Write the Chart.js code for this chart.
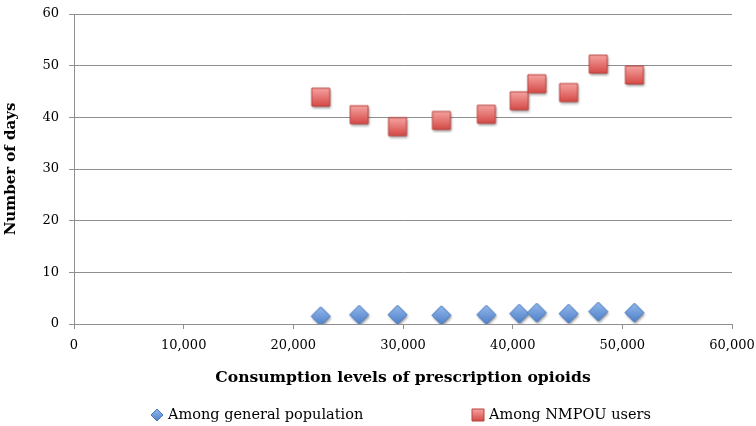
<!DOCTYPE html>
<html>
<head>
<meta charset="utf-8">
<script src="https://cdn.jsdelivr.net/npm/chart.js@4"></script>
<style>
html,body{margin:0;padding:0;background:#fff;}
#wrap{width:756px;height:426px;position:relative;}
</style>
</head>
<body>
<div id="wrap"><canvas id="c"></canvas></div>
<script>
const consumption = [22500, 26000, 29500, 33500, 37600, 40600, 42200, 45100, 47800, 51100];
const generalPop = [1.5, 1.8, 1.8, 1.7, 1.8, 2.0, 2.2, 2.0, 2.4, 2.2];
const nmpouUsers = [43.9, 40.5, 38.2, 39.4, 40.6, 43.2, 46.5, 44.8, 50.3, 48.2];
const xTicks = [0, 10000, 20000, 30000, 40000, 50000, 60000];
const yTicks = [0, 10, 20, 30, 40, 50, 60];
const seriesNames = ['Among general population', 'Among NMPOU users'];

const FONT = "'DejaVu Serif', 'Liberation Serif', serif";

function pts(ys){ return consumption.map((x,i)=>({x:x, y:ys[i]})); }

function makeMarker(shape, size, top, bottom, stroke, withShadow){
  const pad = withShadow ? 4 : 1;
  const S = size + pad*2;
  const cv = document.createElement('canvas');
  cv.width = S; cv.height = S;
  const c = cv.getContext('2d');
  const h = size/2, cx = S/2, cy = S/2;
  function path(){
    c.beginPath();
    if (shape === 'diamond'){
      c.moveTo(cx, cy-h); c.lineTo(cx+h, cy); c.lineTo(cx, cy+h); c.lineTo(cx-h, cy); c.closePath();
    } else {
      c.rect(cx-h, cy-h, size, size);
    }
  }
  if (withShadow){
    c.save();
    c.shadowColor = 'rgba(0,0,0,0.4)'; c.shadowBlur = 2.5; c.shadowOffsetX = 1; c.shadowOffsetY = 2;
    path(); c.fillStyle = bottom; c.fill();
    c.restore();
  }
  const g = c.createLinearGradient(0, cy-h, 0, cy+h);
  g.addColorStop(0, top); g.addColorStop(1, bottom);
  path(); c.fillStyle = g; c.fill();
  c.lineWidth = 1; c.strokeStyle = stroke; c.stroke();
  return cv;
}

const blueMarker = makeMarker('diamond', 19, '#93B8EC', '#4F80C8', '#4A78BD', true);
const redMarker = makeMarker('square', 18, '#F5A3A1', '#D54A46', '#B8423F', true);
const blueLegend = makeMarker('diamond', 12, '#93B8EC', '#4F80C8', '#4A78BD', false);
const redLegend = makeMarker('square', 12, '#F5A3A1', '#D54A46', '#B8423F', false);

const customLegend = {
  id: 'customLegend',
  afterDraw(chart){
    const c = chart.ctx;
    const ca = chart.chartArea;
    c.save();
    c.font = "14.5px " + FONT;
    c.fillStyle = '#000';
    c.textBaseline = 'middle';
    const markers = [blueLegend, redLegend];
    const mid = (ca.left + ca.right)/2;
    const starts = [mid - 252, mid + 69];
    const mw = 12, mg = 5;
    const y = 415;
    chart.data.datasets.forEach((d,i)=>{
      const m = markers[i];
      const x = starts[i];
      c.drawImage(m, x + mw/2 - m.width/2, y - m.height/2);
      c.textAlign = 'left';
      c.fillText(d.label, x + mw + mg, y);
    });
    c.restore();
  }
};

new Chart(document.getElementById('c'), {
  type: 'scatter',
  data: {
    datasets: [
      { label: seriesNames[0], data: pts(generalPop),
        pointStyle: blueMarker, pointRadius: 10, pointHoverRadius: 10,
        backgroundColor: '#5B8ED6', borderColor: '#3F6FB5' },
      { label: seriesNames[1], data: pts(nmpouUsers),
        pointStyle: redMarker, pointRadius: 12, pointHoverRadius: 12,
        backgroundColor: '#E05A57', borderColor: '#B8403D' }
    ]
  },
  options: {
    responsive: true, maintainAspectRatio: false, animation: false,
    layout: { padding: { left: 0, right: 24, top: 14, bottom: 35 } },
    plugins: {
      tooltip: { enabled: false },
      legend: { display: false }
    },
    scales: {
      x: {
        type: 'linear', min: 0, max: 60000,
        afterBuildTicks(axis){ axis.ticks = xTicks.map(v=>({value:v})); },
        ticks: { color: '#000', font: { family: FONT, size: 13 }, padding: 9, maxRotation: 0,
          callback: v => v.toLocaleString('en-US') },
        grid: { drawOnChartArea: false, drawTicks: true, tickLength: 5, color: '#8f8f8f' },
        border: { color: '#8f8f8f', width: 1 },
        title: { display: true, text: 'Consumption levels of prescription opioids',
          color: '#000', font: { family: FONT, size: 15.6, weight: 'bold' }, padding: { top: 15, bottom: 4 } },
        afterFit(axis){ axis.height = 67; axis.paddingLeft = 0; axis.paddingRight = 0; }
      },
      y: {
        min: 0, max: 60,
        afterBuildTicks(axis){ axis.ticks = yTicks.map(v=>({value:v})); },
        ticks: { color: '#000', font: { family: FONT, size: 13 }, padding: 10 },
        grid: { color: '#8f8f8f', tickLength: 5 },
        border: { color: '#8f8f8f', width: 1 },
        title: { display: true, text: 'Number of days',
          color: '#000', font: { family: FONT, size: 15, weight: 'bold' }, padding: { top: 2, bottom: 18 } },
        afterFit(axis){ axis.width = 74; axis.paddingTop = 0; axis.paddingBottom = 0; }
      }
    }
  },
  plugins: [customLegend]
});
</script>
</body>
</html>
